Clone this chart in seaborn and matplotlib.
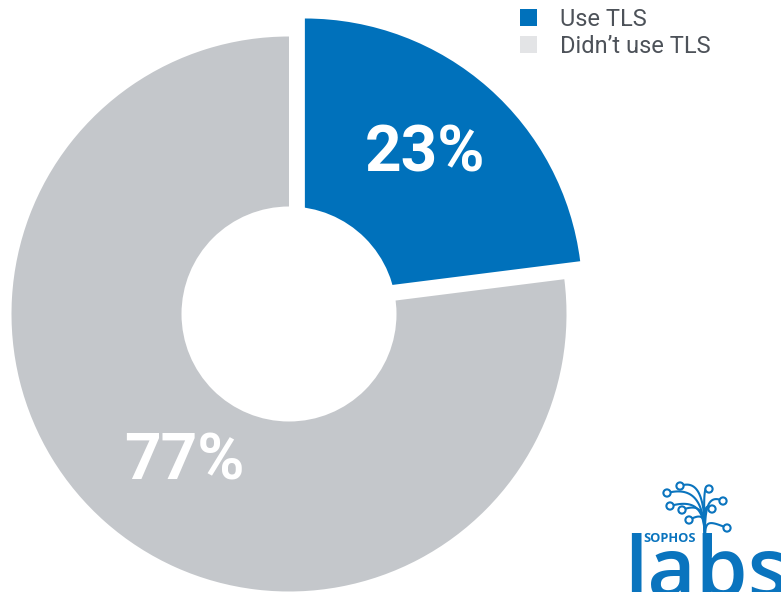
import numpy as np
import matplotlib
matplotlib.use("Agg")
import matplotlib.pyplot as plt
from matplotlib.patches import Patch, Circle
import seaborn as sns

# ---- data ----
categories = ["Use TLS", "Didn\u2019t use TLS"]
shares = [23, 77]
slice_colors = ["#0071BB", "#C4C7CB"]
legend_colors = ["#0071BB", "#E3E4E6"]

sns.set_theme(style="white")
plt.rcParams["font.family"] = ["Roboto", "DejaVu Sans"]

W, H = 781, 592
fig = plt.figure(figsize=(W / 100, H / 100), dpi=100)
ax = fig.add_axes([0, 0, 1, 1])

cx, cy, R = 289, H - 314, 277.5
# pie() offsets exploded wedges in data units (here: pixels)
wedges, _ = ax.pie(shares, colors=slice_colors, startangle=90, counterclock=False,
                   explode=[24, 0], radius=R, center=(cx, cy),
                   wedgeprops=dict(linewidth=0))
# donut hole
ax.add_patch(Circle((cx, cy), 107.5, facecolor="white", edgecolor="none", zorder=5))

# value labels
label_pos = [(425, H - 154), (184, H - 462)]
for (x, y), v in zip(label_pos, shares):
    ax.text(x, y, f"{v}%", color="white", fontsize=46, fontweight="bold",
            family=["Roboto", "DejaVu Sans"], ha="center", va="center", zorder=6)

# legend
handles = [Patch(facecolor=c, edgecolor="none") for c in legend_colors]
leg = ax.legend(handles, categories, loc="upper left",
                bbox_to_anchor=(520 / W, 1 - 8 / H), bbox_transform=ax.transAxes,
                frameon=False, fontsize=17, handlelength=0.72, handleheight=0.72,
                handletextpad=0.97, labelspacing=0.15, borderpad=0, borderaxespad=0)
for t in leg.get_texts():
    t.set_color("#4D5259")

# ---- SophosLabs logo (decoration) ----
logo_blue = "#0A74BE"
stem = (705, 552)
nodes = [(667, 493), (680, 486), (709, 489), (723, 501), (670, 506),
         (682, 510), (712, 509), (689, 520), (727, 528)]
t = np.linspace(0, 1, 50)[:, None]
for nx, ny in nodes:
    p0 = np.array([stem[0], H - stem[1]])
    p1 = np.array([stem[0], H - 522])
    side = 1 if nx >= stem[0] else -1
    p2 = np.array([nx - side * 4 + (stem[0] - nx) * 0.9, H - (ny - 10)])
    p3 = np.array([nx, H - ny])
    pts = ((1 - t) ** 3) * p0 + 3 * ((1 - t) ** 2) * t * p1 + 3 * (1 - t) * t ** 2 * p2 + t ** 3 * p3
    ax.plot(pts[:, 0], pts[:, 1], color=logo_blue, lw=1.5, zorder=7, solid_capstyle="round")
    ax.add_patch(Circle((nx, H - ny), 3.6, facecolor="white", edgecolor=logo_blue, lw=1.5, zorder=8))

ax.text(643, H - 542, "SOPHOS", color=logo_blue, fontsize=9.3, fontweight="bold",
        family=["Open Sans", "DejaVu Sans"], ha="left", va="baseline", zorder=8)
ax.text(624, H - 597, "labs", color=logo_blue, fontsize=60, fontweight="semibold",
        family=["Open Sans", "DejaVu Sans"], ha="left", va="baseline", zorder=8)

ax.set_xlim(0, W)
ax.set_ylim(0, H)
ax.set_aspect("auto")
ax.axis("off")

fig.savefig("out.png", dpi=100)
